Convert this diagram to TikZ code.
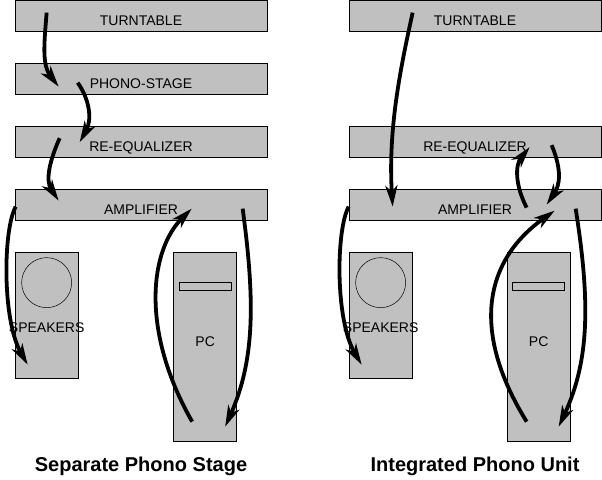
\documentclass[tikz,border=0pt]{standalone}
\usepackage{fontspec}
\setsansfont{Liberation Sans}
\usetikzlibrary{arrows.meta}
\definecolor{unitgray}{RGB}{192,192,192}
\begin{document}
\begin{tikzpicture}[x=1pt, y=-1pt,
  unit/.style={draw, fill=unitgray, line width=0.7pt, inner sep=0pt, text height=19pt, text depth=0pt, font=\sffamily\fontsize{14}{14}\selectfont},
  bar/.style={unit, minimum width=252pt, minimum height=31pt},
  tower/.style={unit, minimum width=63pt},
  lbl/.style={font=\sffamily\fontsize{14}{14}\selectfont, inner sep=0pt},
  title/.style={font=\sffamily\bfseries\fontsize{20}{20}\selectfont, inner sep=0pt},
  flow/.style={line width=3.8pt, -{Stealth[length=21pt, width=12pt, inset=6pt]}}]
\useasboundingbox (0,0) rectangle (602,479);
\node[bar] (ttA) at (141,15.5) {TURNTABLE};
\node[bar] (phonoA) at (141,78.5) {PHONO-STAGE};
\node[bar] (reqA) at (141,142) {RE-EQUALIZER};
\node[bar] (ampA) at (141,204.5) {AMPLIFIER};
\node[tower, minimum height=126pt] (spkA) at (46.5,315) {};
\draw[line width=0.5pt] ([shift={(32,31)}]spkA.north west) circle (25);
\node[lbl] (spkAtxt) at ([shift={(32,76)}]spkA.north west) {SPEAKERS};
\node[tower, minimum height=189pt] (pcA) at (205,346.5) {};
\draw[line width=0.7pt] ([shift={(6,31)}]pcA.north west) rectangle ([shift={(58,39)}]pcA.north west);
\node[lbl] (pcAtxt) at ([shift={(32,90)}]pcA.north west) {PC};
\node[bar] (ttB) at (475,15.5) {TURNTABLE};
\node[bar] (reqB) at (475,142) {RE-EQUALIZER};
\node[bar] (ampB) at (475,204.5) {AMPLIFIER};
\node[tower, minimum height=126pt] (spkB) at (380.5,315) {};
\draw[line width=0.5pt] ([shift={(32,31)}]spkB.north west) circle (25);
\node[lbl] (spkBtxt) at ([shift={(32,76)}]spkB.north west) {SPEAKERS};
\node[tower, minimum height=189pt] (pcB) at (538.5,346.5) {};
\draw[line width=0.7pt] ([shift={(6,31)}]pcB.north west) rectangle ([shift={(58,39)}]pcB.north west);
\node[lbl] (pcBtxt) at ([shift={(32,90)}]pcB.north west) {PC};
\draw[flow] ([shift={(32,13)}]ttA.north west) .. controls (44,45) and (42,65) .. ([shift={(44,24)}]phonoA.north west);
\draw[flow] ([shift={(63,20)}]phonoA.north west) .. controls (90,100) and (92,120) .. ([shift={(65,16)}]reqA.north west);
\draw[flow] ([shift={(45,12)}]reqA.north west) .. controls (50,160) and (45,180) .. ([shift={(44,12)}]ampA.north west);
\draw[flow] ([shift={(1,18)}]ampA.north west) .. controls (3,230) and (2,320) .. ([shift={(13,113)}]spkA.north west);
\draw[flow] ([shift={(19,170)}]pcA.north west) .. controls (140,330) and (150,250) .. ([shift={(177,20)}]ampA.north west);
\draw[flow] ([shift={(228,20)}]ampA.north west) .. controls (255,300) and (255,360) .. ([shift={(52,175)}]pcA.north west);
\draw[flow] ([shift={(64,13)}]ttB.north west) .. controls (400,70) and (388,130) .. ([shift={(44,18)}]ampB.north west);
\draw[flow] ([shift={(178,19)}]ampB.north west) .. controls (515,185) and (515,165) .. ([shift={(181,21)}]reqB.north west);
\draw[flow] ([shift={(203,19)}]reqB.north west) .. controls (562,170) and (560,185) .. ([shift={(198,16)}]ampB.north west);
\draw[flow] ([shift={(0,18)}]ampB.north west) .. controls (336,230) and (335,320) .. ([shift={(13,113)}]spkB.north west);
\draw[flow] ([shift={(20,170)}]pcB.north west) .. controls (470,330) and (485,260) .. ([shift={(206,22)}]ampB.north west);
\draw[flow] ([shift={(227,20)}]ampB.north west) .. controls (590,300) and (590,360) .. ([shift={(52,175)}]pcB.north west);
\node[title] (titleA) at (141,466) {Separate Phono Stage};
\node[title] (titleB) at (475,466) {Integrated Phono Unit};
\end{tikzpicture}
\end{document}
